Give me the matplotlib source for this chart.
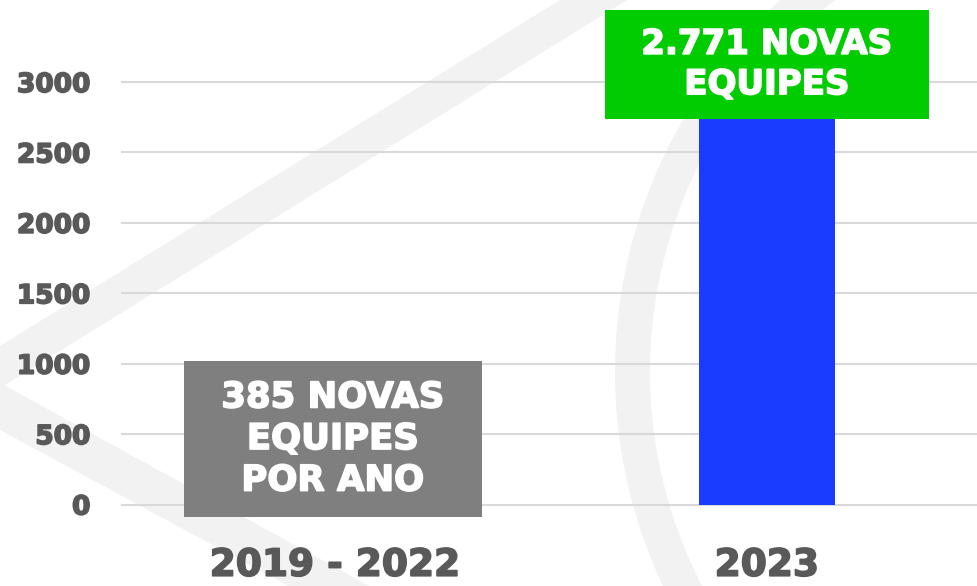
import matplotlib
matplotlib.use("Agg")
import matplotlib.pyplot as plt
import matplotlib.patheffects as pe
from matplotlib.patches import Rectangle, Polygon, Wedge

# data
categories = ["2019 - 2022", "2023"]
values = [385, 2771]
bar_colors = ["#7f7f7f", "#1a3cff"]
yticks = [0, 500, 1000, 1500, 2000, 2500, 3000]

plt.rcParams["font.family"] = ["DejaVu Sans"]
plt.rcParams["font.weight"] = "bold"

fig = plt.figure(figsize=(9.77, 5.86), dpi=100)

# faint watermark in the background (pixel coordinates)
bg = fig.add_axes([0, 0, 1, 1], zorder=0)
bg.set_xlim(0, 977)
bg.set_ylim(586, 0)
bg.axis("off")
wm = "#f2f2f2"
bg.add_patch(Polygon([(560, 0), (627, 0), (0, 388), (-70, 388), (0, 346)],
                     closed=True, color=wm, lw=0))
bg.add_patch(Polygon([(0, 383), (400, 603), (320, 603), (0, 430), (-70, 388)],
                     closed=True, color=wm, lw=0))
bg.add_patch(Wedge((1116, 372), 501, 0, 360, width=35, color=wm, lw=0))

ax = fig.add_axes([121 / 977, 67.4 / 586, 864 / 977, 450.6 / 586], zorder=1)
ax.patch.set_alpha(0)

x = list(range(len(categories)))
ax.bar(x, values, width=0.315, color=bar_colors, zorder=2)

ax.set_xlim(-0.495, 1.505)
ax.set_ylim(-100, 3100)
ax.set_yticks(yticks)
ax.set_yticklabels([str(t) for t in yticks])
ax.set_xticks(x)
ax.set_xticklabels(categories)
ax.grid(axis="y", color="#d9d9d9", lw=1.5)
ax.set_axisbelow(True)
for s in ax.spines.values():
    s.set_visible(False)
ax.tick_params(axis="y", length=0, pad=22, labelsize=19, labelcolor="#595959")
ax.tick_params(axis="x", length=0, pad=21, labelsize=27, labelcolor="#595959")

heavy_grey = [pe.withStroke(linewidth=1.2, foreground="#595959")]
for lbl in ax.get_xticklabels() + ax.get_yticklabels():
    lbl.set_path_effects(heavy_grey)

# callout boxes
def fmt(v):
    return f"{v:,}".replace(",", ".")

labels = [f"{fmt(values[0])} NOVAS\nEQUIPES\nPOR ANO",
          f"{fmt(values[1])} NOVAS\nEQUIPES"]
box_colors = ["#7f7f7f", "#00cc00"]
box_w = [0.69, 0.75]
box_y = [(-89, 1019), (2738, 3512)]
box_dx = [-0.005, 0.0]
label_size = [25.5, 24.5]

for i in range(len(categories)):
    cx = x[i] + box_dx[i]
    y0, y1 = box_y[i]
    ax.add_patch(Rectangle((cx - box_w[i] / 2, y0), box_w[i], y1 - y0,
                           color=box_colors[i], lw=0, zorder=3, clip_on=False))
    t = ax.text(cx, (y0 + y1) / 2, labels[i], ha="center", va="center",
                color="white", fontsize=label_size[i], fontweight="bold",
                linespacing=1.28, zorder=4, clip_on=False)
    t.set_path_effects([pe.withStroke(linewidth=1.2, foreground="white")])

fig.savefig("out.png", dpi=100)
